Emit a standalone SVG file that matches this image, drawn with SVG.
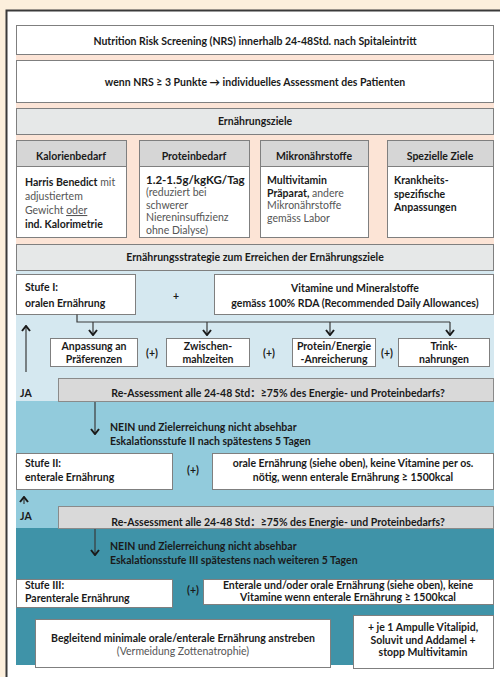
<svg xmlns="http://www.w3.org/2000/svg" width="500" height="677" viewBox="0 0 500 677">
<defs>
<style>
text{font-family:Lato,"Open Sans","Noto Sans CJK SC",sans-serif;font-size:10.5px;fill:#1a1a1a}
.b{font-weight:bold}
.g{fill:#555}
.c{text-anchor:middle}
.box{fill:#fff;stroke:#7f7f7f;stroke-width:1}
.hdr{fill:#e6e8e8;stroke:#7f7f7f;stroke-width:1}
.ch{fill:#d6d6d6;stroke:#7f7f7f;stroke-width:1}
.re{fill:#d9d9d9;stroke:#8a8a8a;stroke-width:1}
.ln{fill:none;stroke:#3a3a3a;stroke-width:1.2}
</style>
<marker id="ah" viewBox="0 0 10 10" refX="9" refY="5" markerWidth="10" markerHeight="10" markerUnits="userSpaceOnUse" orient="auto">
<polyline points="4,1 9,5 4,9" fill="none" stroke="#1a1a1a" stroke-width="2"/>
</marker>
</defs>
<rect width="500" height="677" fill="#fcefdc"/>
<rect x="6.5" y="10.5" width="520" height="700" fill="#fff" stroke="#3a3a3a" stroke-width="2"/>
<!-- background zones -->
<rect x="16" y="40" width="478" height="204" fill="#fce4d6"/>
<rect x="16" y="270" width="478" height="131" fill="#d5e8f0"/>
<rect x="16" y="401" width="478" height="127" fill="#92cbdc"/>
<rect x="16" y="528" width="478" height="137" fill="#3f93a8"/>

<g id="nrs"><rect class="box" x="16.5" y="25.5" width="477" height="29"/><text class="b c" x="255" y="45">Nutrition Risk Screening (NRS) innerhalb 24-48Std. nach Spitaleintritt</text></g>
<g id="assessment"><rect class="box" x="16.5" y="60.5" width="477" height="42"/><text class="b c" x="255" y="86">wenn NRS ≥ 3 Punkte → individuelles Assessment des Patienten</text></g>
<g id="ziele"><rect class="hdr" x="16.5" y="108.5" width="477" height="26"/><text class="b c" x="255" y="125">Ernährungsziele</text></g>

<g id="kalorien"><rect class="box" x="16.5" y="140.5" width="110" height="97"/><rect class="ch" x="16.5" y="140.5" width="110" height="26"/>
<text class="b c" x="71" y="160">Kalorienbedarf</text>
<text x="25" y="186"><tspan class="b">Harris Benedict</tspan><tspan class="g"> mit</tspan></text>
<text class="g" x="25" y="200">adjustiertem</text>
<text class="g" x="25" y="214">Gewicht <tspan text-decoration="underline">oder</tspan></text>
<text class="b" x="25" y="228">ind. Kalorimetrie</text></g>

<g id="protein"><rect class="box" x="139.5" y="140.5" width="110" height="97"/><rect class="ch" x="139.5" y="140.5" width="110" height="26"/>
<text class="b c" x="194" y="160">Proteinbedarf</text>
<text class="b" x="146" y="184" style="font-size:11.5px">1.2-1.5g/kgKG/Tag</text>
<text class="g" x="146" y="196">(reduziert bei</text>
<text class="g" x="146" y="208.5">schwerer</text>
<text class="g" x="146" y="221">Niereninsuffizienz</text>
<text class="g" x="146" y="233.5">ohne Dialyse)</text></g>

<g id="mikro"><rect class="box" x="260.5" y="140.5" width="108" height="97"/><rect class="ch" x="260.5" y="140.5" width="108" height="26"/>
<text class="b c" x="314" y="160">Mikronährstoffe</text>
<text class="b" x="267" y="184">Multivitamin</text>
<text x="267" y="196.5"><tspan class="b">Präparat,</tspan><tspan class="g"> andere</tspan></text>
<text class="g" x="267" y="209">Mikronährstoffe</text>
<text class="g" x="267" y="221.5">gemäss Labor</text></g>

<g id="speziell"><rect class="box" x="387.5" y="140.5" width="106" height="97"/><rect class="ch" x="387.5" y="140.5" width="106" height="26"/>
<text class="b c" x="440" y="160">Spezielle Ziele</text>
<text class="b" x="394" y="184">Krankheits-</text>
<text class="b" x="394" y="197.5">spezifische</text>
<text class="b" x="394" y="211">Anpassungen</text></g>

<g id="strategie"><rect class="hdr" x="16.5" y="244.5" width="477" height="26"/><text class="b c" x="255" y="261">Ernährungsstrategie zum Erreichen der Ernährungsziele</text></g>

<g id="stufe1"><rect class="box" x="16.5" y="274.5" width="119" height="40"/><text class="b" x="25" y="291">Stufe I:</text><text class="b" x="25" y="307">oralen Ernährung</text></g>
<text class="b c" x="176" y="300">+</text>
<g id="vitamine"><rect class="box" x="214.5" y="274.5" width="279" height="40"/><text class="b c" x="355" y="292">Vitamine und Mineralstoffe</text><text class="b c" x="355" y="307">gemäss 100% RDA (Recommended Daily Allowances)</text></g>

<g id="praeferenzen"><rect class="box" x="50.5" y="338.5" width="87" height="28"/><text class="b c" x="94" y="350">Anpassung an</text><text class="b c" x="94" y="363">Präferenzen</text></g>
<text class="b c" x="152" y="357">(+)</text>
<g id="zwischen"><rect class="box" x="166.5" y="338.5" width="83" height="28"/><text class="b c" x="208" y="350">Zwischen-</text><text class="b c" x="208" y="363">mahlzeiten</text></g>
<text class="b c" x="269" y="357">(+)</text>
<g id="anreicherung"><rect class="box" x="292.5" y="338.5" width="83" height="28"/><text class="b c" x="334" y="350">Protein/Energie</text><text class="b c" x="334" y="363">-Anreicherung</text></g>
<text class="b c" x="387" y="357">(+)</text>
<g id="trink"><rect class="box" x="398.5" y="338.5" width="91" height="28"/><text class="b c" x="444" y="350">Trink-</text><text class="b c" x="444" y="363">nahrungen</text></g>

<text class="b" x="20" y="397">JA</text>
<g id="reassess1"><rect class="re" x="58.5" y="378.5" width="435" height="23"/><text class="b c" x="278" y="397">Re-Assessment alle 24-48 Std：≥75% des Energie- und Proteinbedarfs?</text></g>
<text class="b" x="110" y="431">NEIN und Zielerreichung nicht absehbar</text>
<text class="b" x="110" y="445">Eskalationsstufe II nach spätestens 5 Tagen</text>

<g id="stufe2"><rect class="box" x="16.5" y="453.5" width="156" height="36"/><text class="b" x="25" y="467">Stufe II:</text><text class="b" x="25" y="481">enterale Ernährung</text></g>
<text class="b c" x="193" y="474">(+)</text>
<g id="oral2"><rect class="box" x="212.5" y="453.5" width="281" height="36"/><text class="b c" x="353" y="467">orale Ernährung (siehe oben), keine Vitamine per os.</text><text class="b c" x="353" y="481">nötig, wenn enterale Ernährung ≥ 1500kcal</text></g>

<text class="b" x="20" y="520">JA</text>
<g id="reassess2"><rect class="re" x="58.5" y="506.5" width="435" height="22"/><text class="b c" x="278" y="526">Re-Assessment alle 24-48 Std：≥75% des Energie- und Proteinbedarfs?</text></g>
<text class="b" x="110" y="550">NEIN und Zielerreichung nicht absehbar</text>
<text class="b" x="110" y="564">Eskalationsstufe III spätestens nach weiteren 5 Tagen</text>

<g id="stufe3"><rect class="box" x="16.5" y="579.5" width="156" height="28"/><text class="b" x="25" y="589">Stufe III:</text><text class="b" x="25" y="602">Parenterale Ernährung</text></g>
<text class="b c" x="193" y="594">(+)</text>
<g id="enterale3"><rect class="box" x="203.5" y="579.5" width="290" height="25"/><text class="b c" x="348" y="589">Enterale und/oder orale Ernährung (siehe oben), keine</text><text class="b c" x="348" y="601">Vitamine wenn enterale Ernährung ≥ 1500kcal</text></g>

<g id="begleitend"><rect class="box" x="35.5" y="619.5" width="295" height="48"/><text class="b c" x="183" y="642">Begleitend minimale orale/enterale Ernährung anstreben</text><text class="g c" x="183" y="655">(Vermeidung Zottenatrophie)</text></g>
<g id="ampulle"><rect class="box" x="353.5" y="615.5" width="140" height="53"/><text class="b c" x="423" y="631">+ je 1 Ampulle Vitalipid,</text><text class="b c" x="423" y="644">Soluvit und Addamel +</text><text class="b c" x="423" y="656">stopp Multivitamin</text></g>

<g id="connectors">
<polyline class="ln" points="77,314.5 77,322 450,322"/>
<line class="ln" x1="93" y1="322" x2="93" y2="335" marker-end="url(#ah)"/>
<line class="ln" x1="207" y1="322" x2="207" y2="335" marker-end="url(#ah)"/>
<line class="ln" x1="330" y1="322" x2="330" y2="335" marker-end="url(#ah)"/>
<line class="ln" x1="450" y1="322" x2="450" y2="335" marker-end="url(#ah)"/>
<line class="ln" x1="26" y1="372" x2="26" y2="326" marker-end="url(#ah)"/>
<line class="ln" x1="95" y1="402" x2="95" y2="434" marker-end="url(#ah)"/>
<line class="ln" x1="24" y1="504" x2="24" y2="497" marker-end="url(#ah)"/>
<line class="ln" x1="95" y1="529" x2="95" y2="555" marker-end="url(#ah)"/>
</g>
</svg>
